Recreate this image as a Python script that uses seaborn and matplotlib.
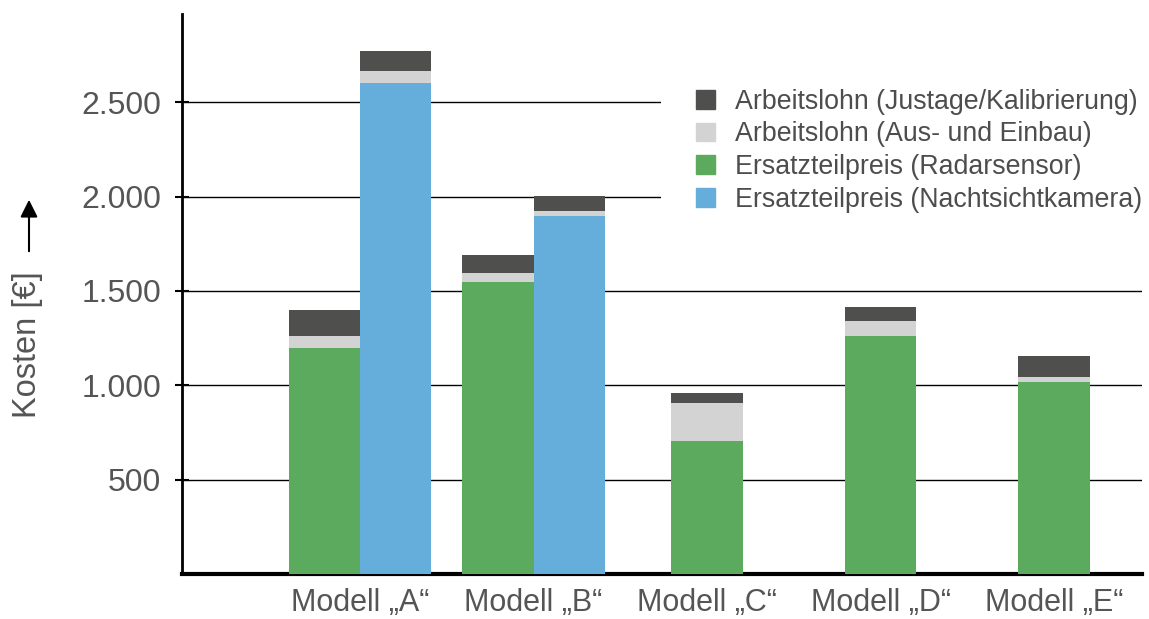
import matplotlib
matplotlib.use("Agg")
import matplotlib.pyplot as plt
import numpy as np
import pandas as pd
import seaborn as sns

models = ["Modell „A“", "Modell „B“", "Modell „C“", "Modell „D“", "Modell „E“"]

# radar sensor stack
radar_part = [1200, 1545, 703, 1259, 1017]
radar_assembly = [59, 48, 203, 83, 29]
radar_calibration = [138, 99, 51, 74, 111]

# night-vision camera stack (only A and B)
camera_part = [2603, 1898, np.nan, np.nan, np.nan]
camera_assembly = [62, 27, np.nan, np.nan, np.nan]
camera_calibration = [107, 79, np.nan, np.nan, np.nan]

labels = [
    "Arbeitslohn (Justage/Kalibrierung)",
    "Arbeitslohn (Aus- und Einbau)",
    "Ersatzteilpreis (Radarsensor)",
    "Ersatzteilpreis (Nachtsichtkamera)",
]
C_DARK = "#4f4f4d"
C_LIGHT = "#d3d3d3"
C_GREEN = "#5caa5e"
C_BLUE = "#65aedb"
TEXT = "#555555"

BAR_W = 0.41


def _stack_frame(part, assembly, calibration, pos):
    df = pd.DataFrame({"pos": pos, "part": part, "assembly": assembly, "calibration": calibration})
    df = df.dropna()
    df["lvl1"] = df["part"]
    df["lvl2"] = df["part"] + df["assembly"]
    df["lvl3"] = df["lvl2"] + df["calibration"]
    return df


def _draw_stack(ax, df, base_color):
    # draw cumulative totals from the top down so each layer shows as a segment
    for col, color in [("lvl3", C_DARK), ("lvl2", C_LIGHT), ("lvl1", base_color)]:
        sns.barplot(
            data=df, x="pos", y=col, native_scale=True, width=BAR_W,
            color=color, saturation=1, linewidth=0, errorbar=None, ax=ax, zorder=3,
        )


def main() -> None:
    sns.set_theme(style="white")
    plt.rcParams["font.family"] = ["Liberation Sans", "DejaVu Sans"]

    has_camera = ~np.isnan(np.array(camera_part, dtype=float))
    centers = np.arange(len(models), dtype=float)
    radar_pos = centers - np.where(has_camera, BAR_W / 2, 0.0)
    camera_pos = centers + BAR_W / 2

    fig = plt.figure(figsize=(11.49, 6.19), dpi=100)
    ax = fig.add_axes([0.1584, 0.0727, 0.8355, 0.9047])

    _draw_stack(ax, _stack_frame(radar_part, radar_assembly, radar_calibration, radar_pos), C_GREEN)
    _draw_stack(ax, _stack_frame(camera_part, camera_assembly, camera_calibration, camera_pos), C_BLUE)

    ax.set_xlim(-1.026, 4.507)
    ax.set_ylim(0, 2968)
    ticks = [500, 1000, 1500, 2000, 2500]
    ax.set_yticks(ticks)
    ax.set_yticklabels([f"{v:,}".replace(",", ".") for v in ticks])
    ax.set_xticks(centers)
    ax.set_xticklabels(models)
    ax.set_xlabel("")
    ax.set_ylabel("")

    ax.yaxis.grid(True, color="black", linewidth=1.0, zorder=0)
    ax.set_axisbelow(True)
    for side in ["top", "right"]:
        ax.spines[side].set_visible(False)
    ax.spines["left"].set_color("black")
    ax.spines["left"].set_linewidth(2.0)
    ax.spines["bottom"].set_color("black")
    ax.spines["bottom"].set_linewidth(3.0)

    ax.tick_params(axis="y", which="major", direction="inout", length=10, width=1.5,
                   color="black", left=True, labelsize=23, labelcolor=TEXT, pad=10)
    ax.tick_params(axis="x", length=0, labelsize=22, labelcolor=TEXT, pad=10)

    # white legend box hides the gridlines behind it, as in the original
    handles = [plt.Rectangle((0, 0), 1, 1, color=c) for c in [C_DARK, C_LIGHT, C_GREEN, C_BLUE]]
    leg = ax.legend(
        handles, labels, loc="upper left", bbox_to_anchor=(661 / 1149, 0.913),
        bbox_transform=fig.transFigure, frameon=True, fontsize=19.3,
        handlelength=0.7, handleheight=0.7, handletextpad=0.75, labelspacing=0.25,
        borderaxespad=0, borderpad=1.3, fancybox=False,
    )
    leg.get_frame().set_facecolor("white")
    leg.get_frame().set_edgecolor("none")
    leg.get_frame().set_alpha(1)
    leg.set_zorder(10)
    for t in leg.get_texts():
        t.set_color("#4d4d4d")

    fig.text(28 / 1149, 1 - 345 / 619, "Kosten [€]", rotation=90, ha="center", va="center",
             fontsize=23.5, color=TEXT)
    fig.add_artist(matplotlib.patches.FancyArrowPatch(
        (29 / 1149, 1 - 254 / 619), (29 / 1149, 1 - 197 / 619),
        transform=fig.transFigure, arrowstyle="-|>", mutation_scale=26,
        color="black", linewidth=1.5,
    ))

    fig.savefig("out.png", dpi=100)
    plt.close(fig)


if __name__ == "__main__":
    main()
